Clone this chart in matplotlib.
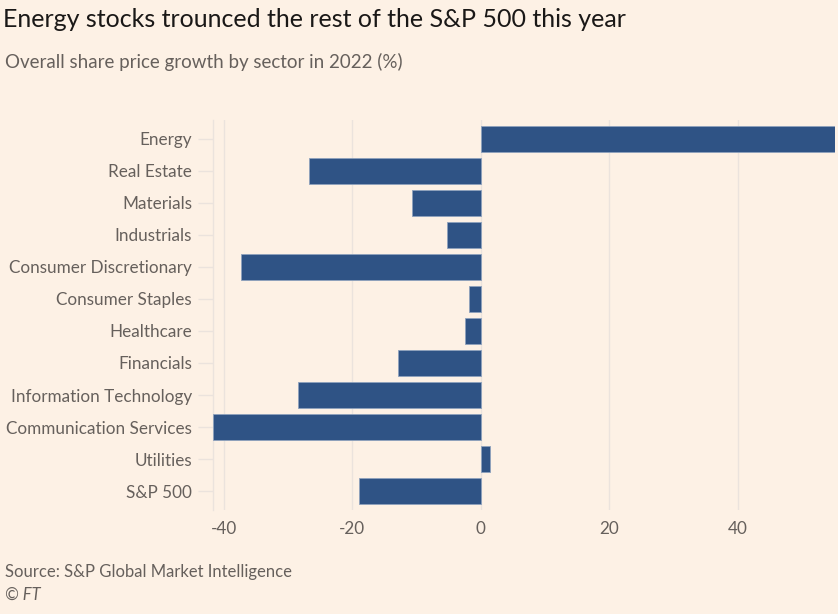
import matplotlib
matplotlib.use('Agg')
import matplotlib.pyplot as plt

# Data (% change in 2022)
sectors = ["Energy", "Real Estate", "Materials", "Industrials",
           "Consumer Discretionary", "Consumer Staples", "Healthcare",
           "Financials", "Information Technology", "Communication Services",
           "Utilities", "S&P 500"]
growth = [55.1, -26.7, -10.7, -5.2, -37.3, -1.8, -2.4, -12.9, -28.4, -41.7, 1.45, -19.0]
x_ticks = [-40, -20, 0, 20, 40]

bg = '#fdf1e5'
bar_color = '#2f5385'
grid_color = '#ebe3dd'
text_color = '#66605c'

plt.rcParams['font.family'] = ['Lato', 'DejaVu Sans']

fig = plt.figure(figsize=(8.38, 6.14), dpi=100, facecolor=bg)
ax = fig.add_axes([0.254, 0.169, 0.742, 0.636], facecolor=bg)

ax.barh(range(len(sectors)), growth, height=0.8, color=bar_color,
        edgecolor='#8ea2bd', linewidth=0.6, zorder=3)

ax.set_xlim(min(growth), max(growth))
ax.set_ylim(len(sectors) - 0.4, -0.6)
ax.set_xticks(x_ticks)
ax.set_xticklabels([str(t) for t in x_ticks])
ax.set_yticks(range(len(sectors)))
ax.set_yticklabels(sectors)

ax.grid(axis='x', color=grid_color, linewidth=1.0, zorder=0)
for s in ['top', 'right', 'bottom']:
    ax.spines[s].set_visible(False)
ax.spines['left'].set_color(grid_color)
ax.spines['left'].set_linewidth(1.0)

ax.tick_params(axis='x', length=0, pad=8, labelsize=12.3, labelcolor=text_color)
ax.tick_params(axis='y', length=11, width=1.0, color=grid_color, pad=4,
               labelsize=12.3, labelcolor=text_color)

fig.text(0.004, 0.968, "Energy stocks trounced the rest of the S&P 500 this year",
         fontsize=18, color='#1a1817', va='center', ha='left')
fig.text(0.006, 0.899, "Overall share price growth by sector in 2022 (%)",
         fontsize=13.5, color=text_color, va='center', ha='left')
fig.text(0.006, 0.069, "Source: S&P Global Market Intelligence",
         fontsize=12, color=text_color, va='center', ha='left')
fig.text(0.006, 0.032, "© FT", fontsize=12, color=text_color,
         va='center', ha='left', style='italic')

fig.savefig('out.png', dpi=100, facecolor=bg)
plt.close(fig)
